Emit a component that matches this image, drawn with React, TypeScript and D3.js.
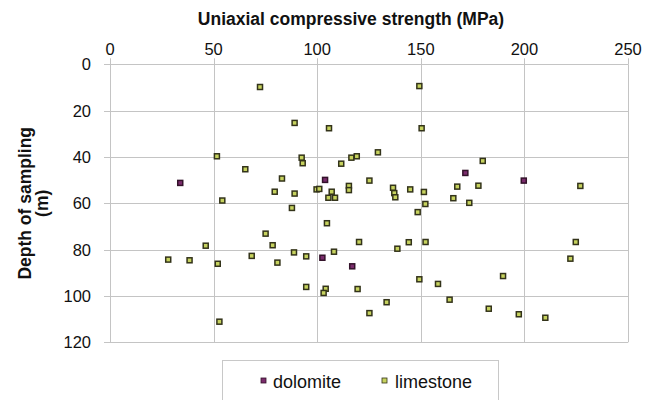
import React from "react";
import * as d3 from "d3";

const dolomiteUCS = [33.9, 103.8, 171.5, 199.7, 102.5, 116.9];
const dolomiteDepth = [51.2, 49.9, 46.9, 50.2, 83.5, 87.2];

const limestoneUCS = [
  72.4, 149.3, 89.1, 105.7, 150.4, 51.6, 92.5, 93.0, 116.5, 119.1, 111.6, 129.3,
  65.3, 83.0, 125.2, 179.9, 89.1, 99.7, 101.0, 107.0, 115.3, 115.3, 105.4, 108.6,
  136.6, 137.2, 137.7, 144.9, 151.5, 167.6, 177.8, 165.7, 173.4, 227.0, 79.5, 54.2,
  87.8, 152.2, 148.5, 104.7, 75.1, 78.5, 46.2, 28.1, 38.4, 52.0, 68.4, 80.8, 52.8,
  120.2, 144.2, 152.3, 138.7, 88.8, 94.7, 108.1, 149.3, 158.3, 163.9, 94.7, 104.1,
  103.1, 119.5, 133.5, 125.2, 224.8, 222.2, 189.7, 182.8, 197.3, 210.1,
];
const limestoneDepth = [
  9.8, 9.4, 25.3, 27.6, 27.6, 39.7, 40.3, 42.7, 40.3, 39.7, 42.9, 38.0,
  45.3, 49.3, 50.2, 41.7, 55.8, 54.0, 53.8, 55.0, 52.5, 54.3, 57.6, 57.6,
  53.3, 55.6, 57.4, 54.0, 55.1, 52.8, 52.4, 57.8, 59.8, 52.5, 55.0, 58.8,
  62.0, 60.3, 63.8, 68.6, 73.1, 78.1, 78.3, 84.3, 84.6, 86.1, 82.7, 85.6, 111.1,
  76.7, 76.8, 76.7, 79.6, 81.2, 82.9, 80.9, 92.8, 94.8, 101.6, 96.1, 96.9,
  98.7, 97.0, 102.7, 107.4, 76.7, 83.9, 91.4, 105.5, 107.9, 109.4,
];

const xTicks = [0, 50, 100, 150, 200, 250];
const yTicks = [0, 20, 40, 60, 80, 100, 120];
const xTitle = "Uniaxial compressive strength (MPa)";
const yTitleLines = ["Depth of sampling", "(m)"];
const seriesNames = ["dolomite", "limestone"];

const W = 655;
const H = 400;
const FONT = "'Liberation Sans', Arial, sans-serif";
const LIME_FILL = "#c6d25e";
const LIME_STROKE = "#33331a";
const DOLO_FILL = "#7a2c6c";
const DOLO_STROKE = "#33122a";
const GRID = "#c4c4c4";

export default function App() {
  const x = d3.scaleLinear().domain([0, 250]).range([110, 628]);
  const y = d3.scaleLinear().domain([0, 120]).range([64.3, 342.3]);
  const s = 5;

  const lime = limestoneUCS.map((v, i) => [v, limestoneDepth[i]]);
  const dolo = dolomiteUCS.map((v, i) => [v, dolomiteDepth[i]]);

  return (
    <svg
      width={W}
      height={H}
      style={{ position: "absolute", left: 0, top: 0, background: "#fff" }}
      fontFamily={FONT}
    >
      <rect x={0} y={0} width={W} height={H} fill="#fff" />
      {yTicks.map((t) => (
        <line key={"gy" + t} x1={x(0)} x2={x(250)} y1={Math.round(y(t)) + 0.5} y2={Math.round(y(t)) + 0.5} stroke={GRID} strokeWidth={1} />
      ))}
      {xTicks.map((t) => (
        <line key={"gx" + t} x1={Math.round(x(t)) + 0.5} x2={Math.round(x(t)) + 0.5} y1={y(0)} y2={y(120)} stroke={GRID} strokeWidth={1} />
      ))}
      {yTicks.map((t) => (
        <line key={"ty" + t} x1={x(0) - 6} x2={x(0)} y1={Math.round(y(t)) + 0.5} y2={Math.round(y(t)) + 0.5} stroke={GRID} strokeWidth={1} />
      ))}
      {xTicks.map((t) => (
        <line key={"tx" + t} x1={Math.round(x(t)) + 0.5} x2={Math.round(x(t)) + 0.5} y1={y(0) - 6} y2={y(0)} stroke={GRID} strokeWidth={1} />
      ))}
      {xTicks.map((t) => (
        <text key={"lx" + t} x={x(t)} y={55} fontSize={16.5} textAnchor="middle" fill="#111">
          {t}
        </text>
      ))}
      {yTicks.map((t) => (
        <text key={"ly" + t} x={91} y={y(t) + 6} fontSize={16.5} textAnchor="end" fill="#111">
          {t}
        </text>
      ))}
      <text x={(x(0) + x(250)) / 2 - 18} y={25} fontSize={17.5} fontWeight="bold" textAnchor="middle" fill="#111">
        {xTitle}
      </text>
      {yTitleLines.map((l, i) => (
        <text
          key={l}
          transform={`translate(${31 + i * 17},${(y(0) + y(120)) / 2}) rotate(-90)`}
          fontSize={17.5}
          fontWeight="bold"
          textAnchor="middle"
          fill="#111"
        >
          {l}
        </text>
      ))}
      {lime.map((d, i) => (
        <rect key={"l" + i} x={x(d[0]) - s / 2} y={y(d[1]) - s / 2} width={s} height={s} fill={LIME_FILL} stroke={LIME_STROKE} strokeWidth={1.5} />
      ))}
      {dolo.map((d, i) => (
        <rect key={"d" + i} x={x(d[0]) - s / 2} y={y(d[1]) - s / 2} width={s} height={s} fill={DOLO_FILL} stroke={DOLO_STROKE} strokeWidth={1.5} />
      ))}
      <rect x={222.5} y={360.5} width={276} height={50} fill="#fff" stroke="#c8c8c8" strokeWidth={1} />
      <rect x={261} y={378} width={5} height={5} fill={DOLO_FILL} stroke={DOLO_STROKE} strokeWidth={0.8} />
      <text x={273} y={388} fontSize={18} fill="#111">
        {seriesNames[0]}
      </text>
      <rect x={382} y={378} width={5} height={5} fill={LIME_FILL} stroke={LIME_STROKE} strokeWidth={0.8} />
      <text x={395} y={388} fontSize={18} fill="#111">
        {seriesNames[1]}
      </text>
    </svg>
  );
}
